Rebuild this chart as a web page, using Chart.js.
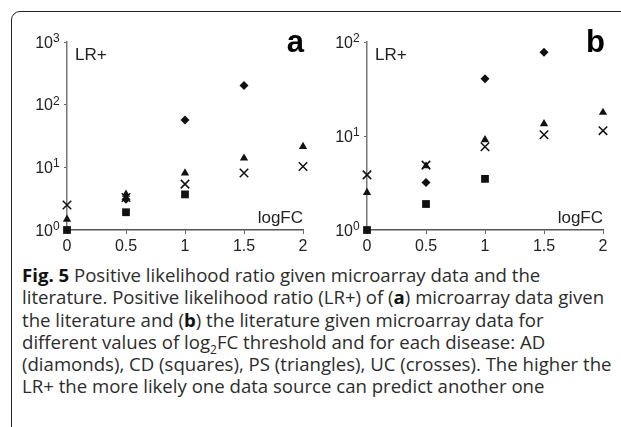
<!DOCTYPE html>
<html>
<head>
<meta charset="utf-8">
<script src="https://cdn.jsdelivr.net/npm/chart.js@4.4.1/dist/chart.umd.min.js"></script>
<style>
  body { margin: 0; width: 621px; height: 427px; overflow: hidden; background: #fff; position: relative; }
  #frame { position: absolute; left: 11px; top: 11px; width: 700px; height: 440px; border: 1.5px solid #222; border-radius: 9px; }
  #ca { position: absolute; left: 0; top: 0; }
  #cb { position: absolute; left: 310px; top: 0; }
  #cap { position: absolute; left: 22px; top: 264px; font-family: "Open Sans", sans-serif; font-size: 18.6px; line-height: 22.25px; color: #2c2c2c; white-space: nowrap; }
  #cap b { color: #111; }
</style>
</head>
<body>
<div id="frame"></div>
<canvas id="ca" width="315" height="262"></canvas>
<canvas id="cb" width="311" height="262"></canvas>
<div id="cap">
<b>Fig. 5</b> Positive likelihood ratio given microarray data and the<br>
literature. Positive likelihood ratio (LR+) of (<b>a</b>) microarray data given<br>
the literature and (<b>b</b>) the literature given microarray data for<br>
different values of log<sub style="font-size:12px;line-height:0">2</sub>FC threshold and for each disease: AD<br>
(diamonds), CD (squares), PS (triangles), UC (crosses). The higher the<br>
LR+ the more likely one data source can predict another one
</div>
<script>
// log2FC thresholds
const thresholds = [0, 0.5, 1, 1.5, 2];
const diseases = ["AD", "CD", "PS", "UC"];

// panel a: microarray data given the literature
const adA = [null, 3.1, 57, 203, null];
const cdA = [1.0, 1.92, 3.7, null, null];
const psA = [1.48, 3.7, 8.1, 14, 21.5];
const ucA = [2.5, 3.3, 5.4, 8.1, 10.3];

// panel b: the literature given microarray data
const adB = [null, 3.2, 40.6, 78, null];
const cdB = [1.0, 1.89, 3.5, null, null];
const psB = [2.5, 4.8, 9.1, 13.5, 17.8];
const ucB = [3.86, 4.9, 7.7, 10.3, 11.4];

const yTicksA = [1, 10, 100, 1000];
const yTicksB = [1, 10, 100];

const FONT = "'Liberation Sans', Arial, sans-serif";

function pts(vals) {
  return thresholds.map((x, i) => ({ x: x, y: vals[i] })).filter(p => p.y !== null);
}

function sets(ad, cd, ps, uc) {
  const base = { backgroundColor: "#111", borderColor: "#111", clip: false };
  return [
    Object.assign({ label: "AD", data: pts(ad), pointStyle: "rectRot", pointRadius: 4.5, borderWidth: 0 }, base),
    Object.assign({ label: "CD", data: pts(cd), pointStyle: "rect", pointRadius: 5.5, borderWidth: 0 }, base),
    Object.assign({ label: "PS", data: pts(ps), pointStyle: "triangle", pointRadius: 4.8, borderWidth: 0 }, base),
    Object.assign({ label: "UC", data: pts(uc), pointStyle: "crossRot", pointRadius: 6, borderWidth: 1.5 }, base),
  ];
}

// axis titles, panel letter and 10^n tick labels with real superscripts
const labels = {
  id: "labels",
  afterDraw(chart, args, opts) {
    const ctx = chart.ctx, a = chart.chartArea, ys = chart.scales.y;
    ctx.save();
    ctx.fillStyle = "#222";
    ctx.font = "17px " + FONT;
    ctx.textBaseline = "middle";
    ctx.textAlign = "left";
    ctx.fillText("LR+", a.left + 8, a.top + 13);
    ctx.textAlign = "right";
    ctx.fillText("logFC", a.right, a.bottom - 12);

    ctx.textBaseline = "alphabetic";
    opts.yTicks.forEach(v => {
      const py = ys.getPixelForValue(v);
      const exp = String(Math.round(Math.log10(v)));
      ctx.font = "16px " + FONT;
      ctx.textAlign = "right";
      ctx.fillText("10", a.left - 14, py + 5.5);
      ctx.font = "12px " + FONT;
      ctx.textAlign = "left";
      ctx.fillText(exp, a.left - 14, py);
    });

    ctx.fillStyle = "#000";
    ctx.font = "bold 31px " + FONT;
    ctx.textAlign = "right";
    ctx.fillText(opts.letter, a.right + opts.dx, 52);
    ctx.restore();
  }
};

function makeChart(id, data, yMax, yTicks, yWidth, padRight, letter, dx) {
  return new Chart(document.getElementById(id), {
    type: "scatter",
    data: { datasets: data },
    options: {
      responsive: false,
      animation: false,
      layout: { padding: { top: 42, right: padRight, left: 0, bottom: 0 } },
      plugins: {
        legend: { display: false },
        tooltip: { enabled: false },
        labels: { letter: letter, dx: dx, yTicks: yTicks }
      },
      scales: {
        x: {
          type: "linear",
          min: 0, max: 2,
          afterBuildTicks: s => { s.ticks = thresholds.map(v => ({ value: v })); },
          afterFit: s => { s.height = 32; },
          grid: { drawOnChartArea: false, drawTicks: true, tickLength: 4, color: "#666" },
          border: { display: true, color: "#555", width: 1.5 },
          ticks: { color: "#222", font: { family: FONT, size: 16 }, padding: 3, maxRotation: 0, callback: v => String(v) }
        },
        y: {
          type: "logarithmic",
          min: 1, max: yMax,
          afterBuildTicks: s => { s.ticks = yTicks.map(v => ({ value: v })); },
          afterFit: s => { s.width = yWidth; },
          grid: { drawOnChartArea: false, drawTicks: true, tickLength: 3, color: "#666" },
          border: { display: true, color: "#777", width: 1.5 },
          ticks: { color: "rgba(0,0,0,0)", font: { family: FONT, size: 16 }, padding: 2 }
        }
      }
    },
    plugins: [labels]
  });
}

makeChart("ca", sets(adA, cdA, psA, ucA), 1000, yTicksA, 67, 12, "a", 1);
makeChart("cb", sets(adB, cdB, psB, ucB), 100, yTicksB, 57, 18, "b", 2);
</script>
</body>
</html>
